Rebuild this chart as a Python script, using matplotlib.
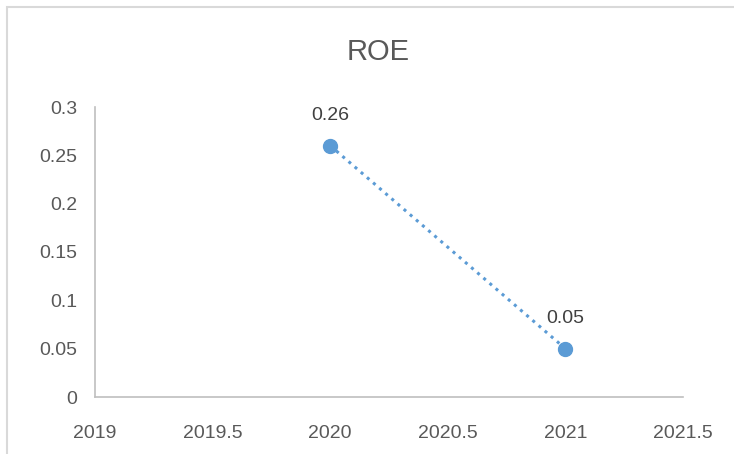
import matplotlib.pyplot as plt
from matplotlib.patches import Rectangle

years = [2020, 2021]
roe = [0.26, 0.05]
labels = ['0.26', '0.05']
x_ticks = [2019, 2019.5, 2020, 2020.5, 2021, 2021.5]
x_tick_labels = ['2019', '2019.5', '2020', '2020.5', '2021', '2021.5']
y_ticks = [0, 0.05, 0.1, 0.15, 0.2, 0.25, 0.3]
y_tick_labels = ['0', '0.05', '0.1', '0.15', '0.2', '0.25', '0.3']

plt.rcParams['font.family'] = ['Liberation Sans Narrow', 'Liberation Sans', 'DejaVu Sans']
text_color = '#595959'
blue = '#5B9BD5'

fig = plt.figure(figsize=(7.34, 4.54), dpi=100)
# chart border (only top and left visible in the reference)
fig.patches.append(Rectangle((7 / 734, -0.1), 1.2, 1 - 7 / 454 + 0.1, transform=fig.transFigure,
                             fill=False, edgecolor='#D9D9D9', linewidth=1.5))

ax = fig.add_axes([95 / 734, 57 / 454, 588 / 734, 290 / 454])
ax.plot(years, roe, linestyle=':', color=blue, linewidth=2.2, marker='o', markersize=10,
        markerfacecolor=blue, markeredgecolor=blue)
for x, y, t in zip(years, roe, labels):
    ax.annotate(t, (x, y), xytext=(0, 22), textcoords='offset points', ha='center', va='center',
                fontsize=14, color='#404040')

ax.set_xlim(2019, 2021.5)
ax.set_ylim(0, 0.3)
ax.set_xticks(x_ticks)
ax.set_xticklabels(x_tick_labels)
ax.set_yticks(y_ticks)
ax.set_yticklabels(y_tick_labels)
ax.tick_params(length=0, labelsize=14, labelcolor=text_color)
ax.tick_params(axis='x', pad=20)
ax.tick_params(axis='y', pad=13)
for s in ['top', 'right']:
    ax.spines[s].set_visible(False)
for s in ['left', 'bottom']:
    ax.spines[s].set_color('#BFBFBF')
    ax.spines[s].set_linewidth(1.2)

fig.text(378 / 734, 1 - 52 / 454, 'ROE', ha='center', va='center', fontsize=21, color=text_color)

fig.savefig('out.png', dpi=100)
